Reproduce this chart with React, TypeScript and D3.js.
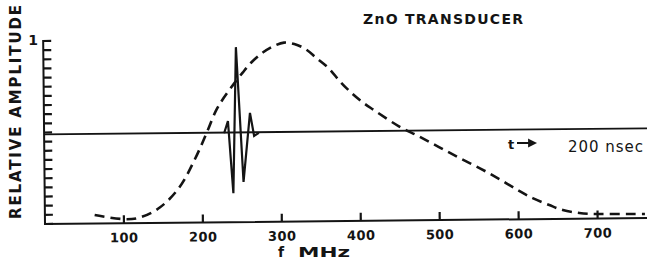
import * as d3 from 'd3';

const width = 647;
const height = 267;

// frequency response of the transducer (dashed)
const freqMHz = [63, 101, 120, 146, 171, 190, 205, 218, 228, 240, 252, 263, 278, 293, 305, 318, 332, 346, 361, 376, 390, 405, 418, 449, 475, 500, 525, 551, 576, 601, 618, 639, 656, 677, 694, 715, 741, 760];
const response = [0.046, 0.022, 0.03, 0.085, 0.195, 0.34, 0.48, 0.61, 0.68, 0.75, 0.815, 0.87, 0.925, 0.962, 0.978, 0.97, 0.942, 0.892, 0.837, 0.76, 0.699, 0.644, 0.605, 0.516, 0.458, 0.399, 0.34, 0.282, 0.221, 0.155, 0.115, 0.076, 0.048, 0.031, 0.025, 0.024, 0.023, 0.022];

// echo pulse in the time trace (solid), drawn in the same frame
const pulseX = [228, 233, 239, 244, 252, 261, 266, 272];
const pulseAmp = [0.486, 0.552, 0.158, 0.956, 0.219, 0.596, 0.47, 0.486];

// time-trace baseline
const traceX = [0, 770];
const traceAmp = [0.49, 0.49];

const xTicks = [100, 200, 300, 400, 500, 600, 700];

const font = "'DejaVu Sans', sans-serif";
const ink = '#141414';

const App = () => {
  const x = d3.scaleLinear().domain([0, 760]).range([45, 645]);
  const y = d3.scaleLinear().domain([0, 1]).range([224, 41]);
  const yTicks = y.ticks(20);

  const lineGen = d3
    .line<[number, number]>()
    .x((d) => x(d[0]))
    .y((d) => y(d[1]));
  const smoothGen = d3
    .line<[number, number]>()
    .x((d) => x(d[0]))
    .y((d) => y(d[1]))
    .curve(d3.curveCatmullRom.alpha(0.5));

  const respPath = smoothGen(freqMHz.map((f, i) => [f, response[i]])) ?? '';
  const pulsePath = lineGen(pulseX.map((f, i) => [f, pulseAmp[i]])) ?? '';
  const tracePath = lineGen(traceX.map((f, i) => [f, traceAmp[i]])) ?? '';

  return (
    <svg
      width={width}
      height={height}
      viewBox={`0 0 ${width} ${height}`}
      style={{ position: 'fixed', left: 0, top: 0, background: '#fff' }}
    >
      {/* the scan is tilted a little, so the plot is too */}
      <g transform="rotate(-0.57, 45, 224)">
        <path d={`M${x(0)},${y(1) - 1}V${y(0)}H${x(775)}`} fill="none" stroke={ink} strokeWidth={2} />
        {yTicks.map((t) => (
          <rect key={`y${t}`} x={x(0)} y={y(t) - 1.1} width={8} height={2.2} fill={ink} />
        ))}
        {xTicks.map((t) => (
          <rect key={`x${t}`} x={x(t) - 1.1} y={y(0) - 8} width={2.2} height={8} fill={ink} />
        ))}
        {xTicks.map((t) => (
          <text
            key={t}
            x={x(t)}
            y={243}
            textAnchor="middle"
            fontFamily={font}
            fontSize={13}
            fontWeight="bold"
            fill={ink}
            textLength={28}
            lengthAdjust="spacing"
          >
            {t}
          </text>
        ))}
        <path d={tracePath} fill="none" stroke={ink} strokeWidth={1.8} />
        <path d={pulsePath} fill="none" stroke={ink} strokeWidth={2.2} />
        <path d={respPath} fill="none" stroke={ink} strokeWidth={2.6} strokeDasharray="10 6" />
      </g>

      <text x={33} y={45} fontFamily={font} fontSize={14} fontWeight="bold" fill={ink} textAnchor="middle">
        1
      </text>
      <text
        transform="translate(21, 219) rotate(-90)"
        fontFamily={font}
        fontSize={15}
        fontWeight="bold"
        fill={ink}
        textLength={214}
        lengthAdjust="spacing"
      >
        RELATIVE AMPLITUDE
      </text>
      <text
        x={363}
        y={24}
        fontFamily={font}
        fontSize={14}
        fontWeight="bold"
        fill={ink}
        textLength={160}
        lengthAdjust="spacing"
      >
        ZnO TRANSDUCER
      </text>
      <text x={278} y={257} fontFamily={font} fontSize={14} fontWeight="bold" fill={ink}>
        f
      </text>
      <text
        x={298}
        y={257}
        fontFamily={font}
        fontSize={14}
        fontWeight="bold"
        fill={ink}
        textLength={52}
        lengthAdjust="spacingAndGlyphs"
      >
        MHz
      </text>
      <text x={508} y={149} fontFamily={font} fontSize={13} fontWeight="bold" fill={ink}>
        t
      </text>
      <path d="M517,143H533M529,140L535,143L529,146Z" fill={ink} stroke={ink} strokeWidth={1.8} />
      <text
        x={568}
        y={152}
        fontFamily={font}
        fontSize={15}
        fill={ink}
        textLength={75}
        lengthAdjust="spacing"
      >
        200 nsec
      </text>
    </svg>
  );
};

export default App;
